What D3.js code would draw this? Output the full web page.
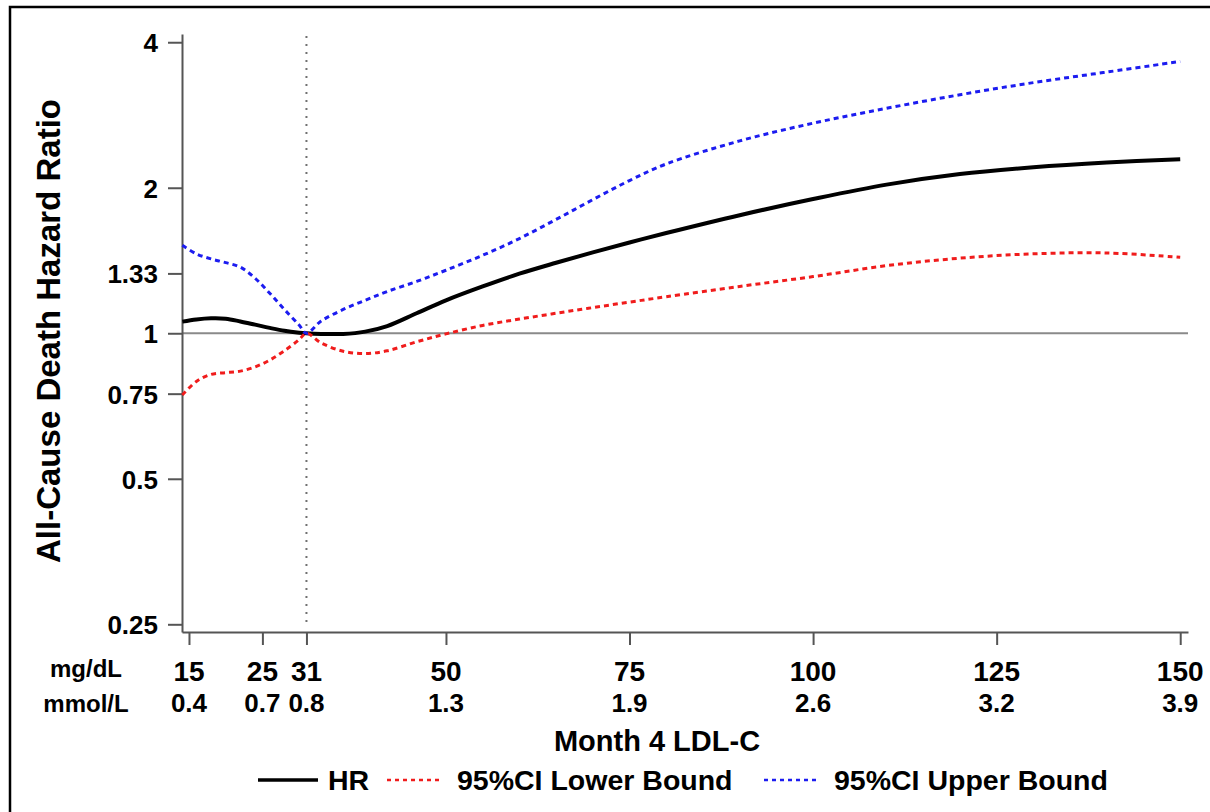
<!DOCTYPE html>
<html>
<head>
<meta charset="utf-8">
<script src="https://cdn.jsdelivr.net/npm/d3@7"></script>
<style>
  body { margin: 0; background: #fff; }
  text { font-family: "Liberation Sans", Arial, sans-serif; font-weight: bold; fill: #000; }
</style>
</head>
<body>
<div id="chart"></div>
<script>
// LDL-C values (mg/dL) where the curves were read
var ldl = [14.1, 16, 18, 20, 22, 24, 26, 28, 30, 31, 33, 36, 39, 42, 46, 50, 55, 60, 65, 70, 75, 80, 90, 100, 110, 120, 130, 140, 150];
var hr = [1.057, 1.068, 1.074, 1.072, 1.058, 1.042, 1.026, 1.012, 1.003, 1.0, 0.997, 0.997, 1.008, 1.035, 1.10, 1.17, 1.25, 1.328, 1.399, 1.47, 1.541, 1.612, 1.755, 1.895, 2.03, 2.135, 2.205, 2.255, 2.291];
var lower = [0.745, 0.795, 0.822, 0.829, 0.835, 0.852, 0.88, 0.92, 0.97, 1.0, 0.955, 0.918, 0.908, 0.92, 0.96, 0.997, 1.038, 1.07, 1.10, 1.13, 1.16, 1.19, 1.25, 1.31, 1.38, 1.43, 1.46, 1.466, 1.436];
var upper = [1.52, 1.46, 1.425, 1.40, 1.37, 1.30, 1.21, 1.12, 1.04, 1.0, 1.06, 1.12, 1.17, 1.22, 1.28, 1.35, 1.45, 1.57, 1.72, 1.89, 2.07, 2.24, 2.50, 2.72, 2.92, 3.115, 3.30, 3.47, 3.65];

var yTicks = [0.25, 0.5, 0.75, 1, 1.33, 2, 4];
var xTicks = [15, 25, 31, 50, 75, 100, 125, 150];
var mmolLabels = ["0.4", "0.7", "0.8", "1.3", "1.9", "2.6", "3.2", "3.9"];
var refLdl = 31;

var series = [
  {name: "HR", values: hr, color: "#000", width: 4, dash: null},
  {name: "95%CI Lower Bound", values: lower, color: "#f01c1c", width: 3, dash: "5,4"},
  {name: "95%CI Upper Bound", values: upper, color: "#1c1cf0", width: 3, dash: "5,4"}
];

var W = 1210, H = 812;
var svg = d3.select("#chart").append("svg").attr("width", W).attr("height", H);
svg.append("rect").attr("width", W).attr("height", H).attr("fill", "#fff");

// outer frame (runs off the right and bottom edges)
svg.append("rect").attr("x", 10).attr("y", 7).attr("width", 1220).attr("height", 830)
  .attr("fill", "none").attr("stroke", "#000").attr("stroke-width", 2.5);

var x = d3.scaleLinear().domain([14.05, 151.06]).range([182, 1188]);
var y = d3.scaleLog().base(2).domain([0.241, 4.16]).range([632, 34]);

// reference lines
svg.append("line").attr("x1", x(refLdl)).attr("x2", x(refLdl)).attr("y1", 36).attr("y2", 626)
  .attr("stroke", "#707070").attr("stroke-width", 2).attr("stroke-dasharray", "2,6");
svg.append("line").attr("x1", 182).attr("x2", 1188).attr("y1", y(1)).attr("y2", y(1))
  .attr("stroke", "#8a8a8a").attr("stroke-width", 2);

// y axis
var yAxis = svg.append("g").attr("transform", "translate(182,0)")
  .call(d3.axisLeft(y).tickValues(yTicks).tickFormat(function(d) { return d; }).tickSize(14).tickSizeOuter(0).tickPadding(10));
yAxis.selectAll("text").style("font-size", "26px").attr("dy", "0.36em").attr("fill", "#000");

// x axis
var xAxis = svg.append("g").attr("transform", "translate(0,632)")
  .call(d3.axisBottom(x).tickValues(xTicks).tickFormat("").tickSize(13).tickSizeOuter(0));

[yAxis, xAxis].forEach(function(a) {
  a.select(".domain").attr("stroke", "#555").attr("stroke-width", 2);
  a.selectAll(".tick line").attr("stroke", "#555").attr("stroke-width", 2);
});

// two rows of x labels
svg.selectAll(".mg").data(xTicks).enter().append("text")
  .attr("x", function(d) { return x(d); }).attr("y", 681)
  .attr("text-anchor", "middle").style("font-size", "28px")
  .text(function(d) { return d; });
svg.selectAll(".mmol").data(mmolLabels).enter().append("text")
  .attr("x", function(d, i) { return x(xTicks[i]); }).attr("y", 712)
  .attr("text-anchor", "middle").style("font-size", "26px")
  .text(function(d) { return d; });
svg.append("text").attr("x", 86).attr("y", 677).attr("text-anchor", "middle").style("font-size", "24px").text("mg/dL");
svg.append("text").attr("x", 86).attr("y", 712).attr("text-anchor", "middle").style("font-size", "24px").text("mmol/L");

// axis titles
svg.append("text").attr("x", 657).attr("y", 751).attr("text-anchor", "middle")
  .style("font-size", "29px").text("Month 4 LDL-C");
svg.append("text").attr("transform", "translate(60,331) rotate(-90)").attr("text-anchor", "middle")
  .style("font-size", "33px").text("All-Cause Death Hazard Ratio");

// curves
var line = d3.line().curve(d3.curveCatmullRom.alpha(0.5));
series.forEach(function(s) {
  svg.append("path")
    .attr("d", line(ldl.map(function(v, i) { return [x(v), y(s.values[i])]; })))
    .attr("fill", "none").attr("stroke", s.color).attr("stroke-width", s.width)
    .attr("stroke-dasharray", s.dash);
});

// legend
var legendX = [258, 387, 764];
var legend = svg.selectAll(".legend").data(series).enter().append("g")
  .attr("transform", function(d, i) { return "translate(" + legendX[i] + ",780)"; });
legend.append("line").attr("x1", 0).attr("x2", function(d, i) { return i === 0 ? 60 : 54; })
  .attr("stroke", function(d) { return d.color; })
  .attr("stroke-width", function(d, i) { return i === 0 ? 3.5 : 2.5; })
  .attr("stroke-dasharray", function(d) { return d.dash ? "4,4" : null; });
legend.append("text").attr("x", 70).attr("y", 10)
  .style("font-size", "28.5px").text(function(d) { return d.name; });
</script>
</body>
</html>
